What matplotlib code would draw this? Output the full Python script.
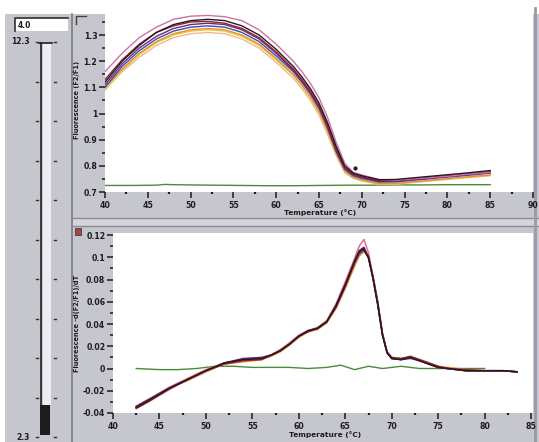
import matplotlib
matplotlib.use("Agg")
import matplotlib.pyplot as plt
from matplotlib.patches import Rectangle
from matplotlib.ticker import MultipleLocator, FixedLocator

plt.rcParams.update({"font.family": "DejaVu Sans", "font.size": 6})

# ── melting curves (top panel) ───────────────────────────────────────────────
T_TOP = [40, 42, 44, 46, 48, 50, 52, 54, 56, 58, 60, 62, 63, 64, 65, 66, 67,
         68, 69, 70, 72, 74, 76, 78, 80, 82, 85]
top_pink = [1.16, 1.23, 1.29, 1.33, 1.36, 1.372, 1.375, 1.37, 1.355, 1.32, 1.265,
            1.20, 1.16, 1.115, 1.06, 0.985, 0.89, 0.81, 0.775, 0.765, 0.748,
            0.745, 0.75, 0.755, 0.76, 0.767, 0.775]
top_dark = [1.12, 1.20, 1.26, 1.31, 1.34, 1.355, 1.36, 1.355, 1.335, 1.30, 1.245,
            1.18, 1.14, 1.095, 1.04, 0.965, 0.875, 0.80, 0.772, 0.762, 0.747,
            0.748, 0.754, 0.76, 0.766, 0.772, 0.782]
top_red = [1.13, 1.205, 1.265, 1.31, 1.335, 1.35, 1.352, 1.345, 1.325, 1.29, 1.235,
           1.17, 1.13, 1.085, 1.03, 0.955, 0.865, 0.795, 0.768, 0.758, 0.743,
           0.744, 0.75, 0.756, 0.762, 0.768, 0.778]
top_purple = [1.11, 1.19, 1.25, 1.295, 1.325, 1.34, 1.345, 1.34, 1.32, 1.285, 1.23,
              1.165, 1.125, 1.08, 1.025, 0.95, 0.86, 0.79, 0.765, 0.755, 0.740,
              0.741, 0.747, 0.753, 0.759, 0.765, 0.774]
top_blue = [1.10, 1.18, 1.24, 1.285, 1.315, 1.33, 1.335, 1.33, 1.31, 1.275, 1.22,
            1.16, 1.12, 1.075, 1.02, 0.945, 0.855, 0.787, 0.762, 0.752, 0.738,
            0.739, 0.745, 0.751, 0.757, 0.763, 0.772]
top_orange = [1.10, 1.17, 1.23, 1.275, 1.305, 1.32, 1.325, 1.32, 1.30, 1.265, 1.21,
              1.15, 1.11, 1.065, 1.01, 0.935, 0.85, 0.78, 0.757, 0.746, 0.732,
              0.733, 0.739, 0.745, 0.751, 0.757, 0.765]
top_yellow = [1.09, 1.165, 1.225, 1.27, 1.30, 1.315, 1.32, 1.315, 1.295, 1.26, 1.205,
              1.145, 1.105, 1.06, 1.005, 0.93, 0.845, 0.778, 0.755, 0.745, 0.731,
              0.732, 0.738, 0.744, 0.75, 0.756, 0.764]
top_peach = [1.09, 1.16, 1.215, 1.26, 1.29, 1.305, 1.31, 1.305, 1.285, 1.25, 1.195,
             1.135, 1.095, 1.05, 0.995, 0.92, 0.84, 0.775, 0.752, 0.742, 0.729,
             0.73, 0.736, 0.742, 0.748, 0.754, 0.762]

T_GREEN_TOP = [40, 43, 46, 47, 48, 50, 53, 56, 59, 62, 65, 68, 71, 74, 77, 80, 83, 85]
top_green = [0.725, 0.725, 0.726, 0.729, 0.728, 0.727, 0.726, 0.725, 0.724, 0.724,
             0.725, 0.726, 0.726, 0.727, 0.727, 0.728, 0.728, 0.728]

# ── derivative curves (bottom panel) ─────────────────────────────────────────
T_BOT = [42.5, 44, 46, 48, 50, 52, 54, 56, 57, 58, 59, 60, 61, 62, 63, 64, 65, 66,
         66.5, 67, 67.5, 68, 68.5, 69, 69.5, 70, 71, 72, 73, 74, 75, 76, 78, 80,
         82, 83.5]
bot_dark = [-0.035, -0.028, -0.018, -0.010, -0.002, 0.005, 0.008, 0.009, 0.012,
            0.016, 0.022, 0.029, 0.034, 0.036, 0.042, 0.056, 0.075, 0.096, 0.105,
            0.108, 0.099, 0.080, 0.057, 0.030, 0.014, 0.009, 0.008, 0.010, 0.007,
            0.004, 0.001, 0.000, -0.002, -0.002, -0.002, -0.003]
bot_pink = [-0.034, -0.027, -0.017, -0.009, -0.001, 0.005, 0.008, 0.009, 0.012,
            0.017, 0.023, 0.030, 0.034, 0.037, 0.043, 0.058, 0.078, 0.099, 0.110,
            0.116, 0.104, 0.082, 0.058, 0.031, 0.014, 0.009, 0.008, 0.010, 0.007,
            0.004, 0.001, 0.000, -0.002, -0.002, -0.002, -0.003]
bot_red = [-0.036, -0.029, -0.019, -0.010, -0.002, 0.004, 0.007, 0.008, 0.012,
           0.016, 0.022, 0.029, 0.033, 0.036, 0.042, 0.055, 0.074, 0.095, 0.104,
           0.107, 0.100, 0.081, 0.058, 0.031, 0.015, 0.010, 0.009, 0.011, 0.008,
           0.005, 0.002, 0.000, -0.001, -0.002, -0.002, -0.003]
bot_orange = [-0.035, -0.028, -0.018, -0.011, -0.003, 0.004, 0.006, 0.008, 0.011,
              0.015, 0.021, 0.028, 0.033, 0.035, 0.041, 0.054, 0.072, 0.092, 0.101,
              0.105, 0.100, 0.082, 0.060, 0.032, 0.015, 0.010, 0.009, 0.010, 0.008,
              0.005, 0.002, 0.001, -0.001, -0.002, -0.002, -0.003]
bot_blue = [-0.035, -0.028, -0.018, -0.010, -0.002, 0.005, 0.008, 0.009, 0.012,
            0.016, 0.022, 0.029, 0.034, 0.036, 0.042, 0.056, 0.075, 0.095, 0.103,
            0.106, 0.101, 0.082, 0.059, 0.031, 0.014, 0.009, 0.008, 0.009, 0.007,
            0.004, 0.001, 0.000, -0.002, -0.002, -0.002, -0.003]
bot_purple = [-0.034, -0.027, -0.018, -0.010, -0.002, 0.005, 0.009, 0.010, 0.012,
              0.016, 0.022, 0.029, 0.034, 0.036, 0.042, 0.057, 0.076, 0.097, 0.106,
              0.109, 0.100, 0.080, 0.057, 0.030, 0.014, 0.009, 0.008, 0.010, 0.007,
              0.004, 0.001, 0.000, -0.002, -0.002, -0.002, -0.003]

T_GREEN_BOT = [42.5, 45, 47, 49, 51, 53, 55, 57, 59, 61, 63, 64.5, 66, 67.5, 69,
               71, 73, 75, 77, 79, 80]
bot_green = [0.000, -0.001, -0.001, 0.000, 0.002, 0.002, 0.001, 0.001, 0.001,
             0.000, 0.001, 0.003, -0.001, 0.002, 0.000, 0.002, 0.000, 0.000,
             0.000, 0.000, 0.000]

TOP_SERIES = [(top_peach, "#f0b890"), (top_yellow, "#e8c840"), (top_orange, "#e89030"),
              (top_blue, "#3850a8"), (top_purple, "#6a2a80"), (top_red, "#902030"),
              (top_pink, "#d070a8"), (top_dark, "#281820")]
BOT_SERIES = [(bot_pink, "#e07090"), (bot_orange, "#e89030"), (bot_blue, "#3858b0"),
              (bot_purple, "#6a2a80"), (bot_red, "#a02828"), (bot_dark, "#281820")]

BG = "#c6c6ce"
INK = "#1c1c1c"
W, H = 539, 442

fig = plt.figure(figsize=(W / 100, H / 100), dpi=100, facecolor="white")

# background / frame decoration in pixel coordinates
bg = fig.add_axes([0, 0, 1, 1], zorder=0)
bg.set_xlim(0, W)
bg.set_ylim(H, 0)
bg.axis("off")
bg.add_patch(Rectangle((5, 14), W - 5, H - 14, fc=BG, ec="none"))
bg.plot([72, 72], [14, H], color="#7a7a82", lw=1.2)
bg.add_patch(Rectangle((72, 218), W - 72, 8, fc="#d4d4da", ec="none"))
bg.plot([72, W], [218, 218], color="#8a8a92", lw=1.0)
bg.plot([72, W], [226, 226], color="#8a8a92", lw=1.0)
bg.plot([W - 4, W - 4], [8, H], color="#9a9aa8", lw=2)

# slider panel
bg.add_patch(Rectangle((15, 18), 53, 13, fc="white", ec="none"))
bg.plot([15, 15, 68], [31, 18, 18], color="#303030", lw=1.2)
bg.text(18, 25, "4.0", fontsize=5.5, fontweight="bold", color=INK, va="center")
bg.text(30, 42, "12.3", fontsize=5.5, fontweight="bold", color=INK, va="center", ha="right")
bg.text(30, 437, "2.3", fontsize=5.5, fontweight="bold", color=INK, va="center", ha="right")
bg.add_patch(Rectangle((43, 43), 8, 362, fc="#eeeef2", ec="none"))
bg.plot([41, 41], [43, 405], color="#202020", lw=1.2)
bg.plot([39, 52], [43, 43], color="#202020", lw=1.2)
for k in range(11):
    yy = 42 + k * 39.5
    bg.plot([36, 38], [yy, yy], color="#303030", lw=1)
    bg.plot([54, 56], [yy, yy], color="#303030", lw=1)
bg.add_patch(Rectangle((40, 405), 10, 30, fc="#1c1c1c", ec="none"))

# small panel icons
bg.plot([76, 76, 86], [24, 16, 16], color="#404040", lw=1)
bg.add_patch(Rectangle((75, 228), 6, 7, fc="#a04848", ec="#404040", lw=0.6))

# axis titles
bg.text(320, 213, "Temperature (°C)", fontsize=5.3, fontweight="bold", color=INK,
        ha="center", va="center")
bg.text(325, 435, "Temperature (°C)", fontsize=5.3, fontweight="bold", color=INK,
        ha="center", va="center")
bg.text(77, 100, "Fluorescence (F2/F1)", fontsize=4.8, fontweight="bold", color=INK,
        ha="center", va="center", rotation=90)
bg.text(77, 323, "Fluorescence -d(F2/F1)/dT", fontsize=4.8, fontweight="bold", color=INK,
        ha="center", va="center", rotation=90)


def px_axes(l, t, r, b):
    return fig.add_axes([l / W, 1 - b / H, (r - l) / W, (b - t) / H], zorder=1)


def style(ax):
    ax.set_facecolor("white")
    for s in ax.spines.values():
        s.set_visible(False)
    ax.tick_params(which="major", direction="out", length=4, width=1.1, color=INK,
                   labelsize=5.6, pad=1.5)
    ax.tick_params(which="minor", direction="out", length=2.5, width=1.1, color=INK)
    ax.tick_params(axis="x", which="minor", length=1.5, width=1.6)
    ax.tick_params(axis="x", which="major", pad=2.5)
    for lab in ax.get_xticklabels() + ax.get_yticklabels():
        lab.set_fontweight("bold")
        lab.set_color(INK)


# ── top panel ────────────────────────────────────────────────────────────────
ax1 = px_axes(105, 12, 533, 192)
ax1.set_xlim(40, 90)
ax1.set_ylim(0.7, 1.388)
ax1.plot(T_GREEN_TOP, top_green, color="#4a8a3a", lw=1.0)
for ys, c in TOP_SERIES:
    ax1.plot(T_TOP, ys, color=c, lw=1.0)
ax1.plot([69.2], [0.792], "o", color=INK, ms=2)
ax1.xaxis.set_major_locator(MultipleLocator(5))
ax1.xaxis.set_minor_locator(MultipleLocator(2.5))
ax1.yaxis.set_major_locator(FixedLocator([0.7, 0.8, 0.9, 1.0, 1.1, 1.2, 1.3]))
ax1.yaxis.set_minor_locator(MultipleLocator(0.05))
ax1.set_yticklabels(["0.7", "0.8", "0.9", "1", "1.1", "1.2", "1.3"])
style(ax1)

# ── bottom panel ─────────────────────────────────────────────────────────────
ax2 = px_axes(113, 233, 533, 413)
ax2.set_xlim(40, 85.2)
ax2.set_ylim(-0.04, 0.1218)
ax2.plot(T_GREEN_BOT, bot_green, color="#4a8a3a", lw=1.0)
for ys, c in BOT_SERIES:
    ax2.plot(T_BOT, ys, color=c, lw=1.1)
ax2.xaxis.set_major_locator(FixedLocator([40, 45, 50, 55, 60, 65, 70, 75, 80, 85]))
ax2.xaxis.set_minor_locator(MultipleLocator(2.5))
ax2.yaxis.set_major_locator(FixedLocator([-0.04, -0.02, 0, 0.02, 0.04, 0.06, 0.08, 0.1, 0.12]))
ax2.yaxis.set_minor_locator(MultipleLocator(0.01))
ax2.set_yticklabels(["-0.04", "-0.02", "0", "0.02", "0.04", "0.06", "0.08", "0.1", "0.12"])
style(ax2)

fig.savefig("out.png", dpi=100, facecolor="white")
